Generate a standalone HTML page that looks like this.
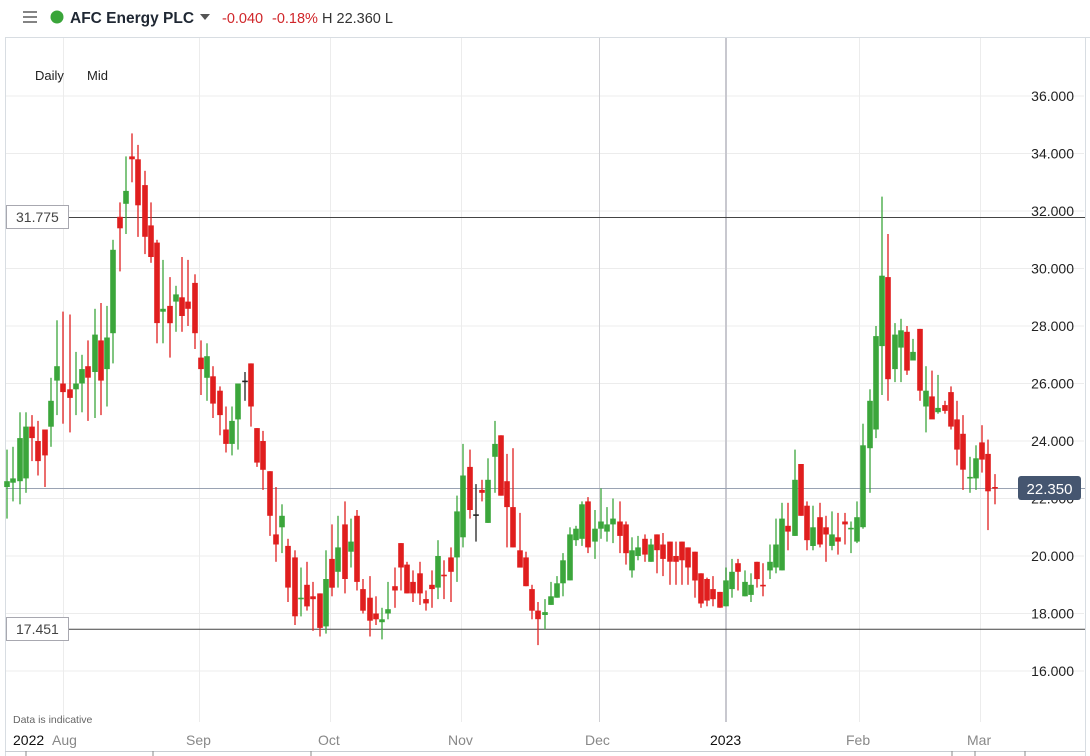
<!DOCTYPE html>
<html><head><meta charset="utf-8"><style>
body{margin:0;background:#fff;width:1090px;height:756px;overflow:hidden;font-family:"Liberation Sans",sans-serif}
svg{position:absolute;left:0;top:0}
</style></head><body>
<svg id="s" width="1090" height="756" xmlns="http://www.w3.org/2000/svg">
<rect x="0" y="0" width="1090" height="756" fill="#fff"/>
<line x1="5" y1="37.5" x2="1090" y2="37.5" stroke="#d8dde2"/>
<line x1="5.5" y1="38" x2="5.5" y2="756" stroke="#d8dde2"/>
<line x1="1085.5" y1="38" x2="1085.5" y2="756" stroke="#d8dde2"/>
<line x1="5" y1="751.5" x2="1085" y2="751.5" stroke="#c8ccd2"/>
<g id="grid"></g>
<g id="c"></g>
<!-- header -->
<g stroke="#666" stroke-width="1.6"><line x1="23" y1="12" x2="37" y2="12"/><line x1="23" y1="17" x2="37" y2="17"/><line x1="23" y1="22" x2="37" y2="22"/></g>
<circle cx="57" cy="17" r="6.5" fill="#3aa53a"/>
<text x="70" y="23" font-size="15.5" font-weight="bold" fill="#1f2733">AFC Energy PLC</text>
<polygon points="200,14 210,14 205,20" fill="#555"/>
<text x="222" y="23" font-size="14.5" fill="#d0262a">-0.040</text>
<text x="272" y="23" font-size="14.5" fill="#d0262a">-0.18%</text>
<text x="322" y="23" font-size="14.5" fill="#333">H 22.360 L</text>
<text x="35" y="80" font-size="13" fill="#222">Daily</text>
<text x="87" y="80" font-size="13" fill="#222">Mid</text>
<text x="13" y="723" font-size="10.5" fill="#666">Data is indicative</text>
<text x="13" y="745" font-size="14" fill="#111">2022</text>
<g font-size="14" fill="#888">
<text x="52" y="745">Aug</text><text x="186" y="745">Sep</text><text x="318" y="745">Oct</text>
<text x="448" y="745">Nov</text><text x="585" y="745">Dec</text><text x="967" y="745">Mar</text><text x="846" y="745">Feb</text>
</g>
<text x="710" y="745" font-size="14" fill="#111">2023</text>
<g stroke="#888"><line x1="26" y1="751" x2="26" y2="756"/><line x1="153" y1="751" x2="153" y2="756"/><line x1="311" y1="751" x2="311" y2="756"/><line x1="952" y1="751" x2="952" y2="756"/><line x1="975" y1="751" x2="975" y2="756"/><line x1="1025" y1="751" x2="1025" y2="756"/></g>
</svg>
<script>
const Y=p=>96+(36-p)*28.75;
let g='';
for(let p=16;p<=36;p+=2){const y=Y(p).toFixed(1);g+=`<line x1="6" y1="${y}" x2="1084" y2="${y}" stroke="#ececec"/>`;
g+=`<text x="1074" y="${(Y(p)+5).toFixed(1)}" font-size="14" fill="#222" text-anchor="end" font-family="Liberation Sans">${p}.000</text>`;}
[63,199,330,461,859,980].forEach(x=>g+=`<line x1="${x}.5" y1="38" x2="${x}.5" y2="722" stroke="#ececec"/>`);
g+=`<line x1="599.5" y1="38" x2="599.5" y2="722" stroke="#d0d0d4"/>`;
g+=`<line x1="726" y1="38" x2="726" y2="722" stroke="#c8c8cf" stroke-width="2"/>`;
g+=`<line x1="69" y1="${Y(31.775)}" x2="1085" y2="${Y(31.775)}" stroke="#444"/>`;
g+=`<rect x="6.5" y="205.5" width="62" height="23" fill="#fff" stroke="#a8a8b0"/><text x="16" y="222" font-size="14" fill="#444">31.775</text>`;
g+=`<line x1="69" y1="${Y(17.451)}" x2="1085" y2="${Y(17.451)}" stroke="#444"/>`;
g+=`<rect x="6.5" y="617.5" width="62" height="23" fill="#fff" stroke="#a8a8b0"/><text x="16" y="634" font-size="14" fill="#444">17.451</text>`;
g+=`<line x1="6" y1="${Y(22.35)}" x2="1085" y2="${Y(22.35)}" stroke="#9aa3b3"/>`;
document.getElementById('grid').innerHTML=g;
const D=[
[7,22.4,23.7,21.3,22.6],[13,22.55,23.8,21.9,22.7],[20,22.6,25,21.8,24.1],[26,22.7,25,22.2,24.5],[32,24.5,24.9,23.3,24.1],[38,24.0,24.7,22.8,23.3],[45,24.4,24.4,22.4,23.5],
[51,24.5,26.2,23.8,25.4],[57,26.1,28.2,24.9,26.6],[63,26.0,28.5,24.6,25.7],[70,25.8,28.4,24.3,25.5],[76,25.8,27.1,24.9,26.0],[82,26.0,27.0,25.0,26.5],
[88,26.6,27.5,24.7,26.2],[95,26.4,28.6,24.8,27.7],[101,27.5,28.8,24.9,26.1],[107,26.5,28.7,25.2,27.6],[113,27.75,31.0,26.7,30.65],[120,31.8,32.3,29.9,31.4],
[126,32.25,33.9,31.2,32.7],[132,33.9,34.7,33.0,33.8],[138,33.8,34.3,31.1,32.2],[145,32.9,33.4,30.5,31.1],[151,31.5,32.3,30.2,30.4],[157,30.9,31.0,27.4,28.1],
[163,28.5,30.3,27.4,28.6],[170,28.7,29.7,26.9,28.1],[176,28.85,29.4,27.8,29.1],[182,29.0,30.4,27.8,28.35],[188,28.85,30.3,28.0,28.6],[195,29.5,29.8,27.2,27.75],
[201,26.9,27.5,25.6,26.5],[207,26.2,27.4,25.4,26.95],[213,26.25,26.6,24.8,25.3],[220,25.75,25.9,24.2,24.9],[226,24.4,25.2,23.6,23.9],[232,23.9,25.2,23.5,24.7],
[238,24.75,26.0,23.7,26.0],[245,26.1,26.4,25.4,26.1,1],[251,26.7,26.7,24.5,25.2],[257,24.45,24.45,23.1,23.25],[263,24.0,24.35,22.3,23.0],
[270,22.95,22.95,20.7,21.4],[276,20.75,22.4,19.8,20.4],[282,21.0,21.8,20.1,21.4],[288,20.35,20.6,18.4,18.9],[295,19.95,20.2,17.6,17.9],[301,18.5,19.6,17.9,18.55],
[307,19.0,19.8,18.1,18.25],[313,18.6,19.1,17.4,18.5],[320,18.7,18.7,17.2,17.5],[326,17.55,20.2,17.3,19.2],[332,19.9,21.1,18.6,18.9],[338,19.45,21.4,18.9,20.3],
[345,21.1,21.9,18.7,19.2],[351,20.15,21.3,19.6,20.5],[357,21.4,21.6,18.8,19.1],[363,18.85,19.2,18.0,18.1],[370,18.55,19.3,17.2,17.75],[376,18.0,18.6,17.6,17.8],
[382,17.7,18.2,17.1,17.8],[388,18.0,19.1,17.8,18.15],[395,18.95,19.6,18.2,18.8],[401,20.45,20.45,18.8,19.6],[407,19.7,19.8,18.7,18.7],[413,19.1,19.5,18.4,18.7],
[420,19.4,19.8,18.3,18.7],[426,18.5,18.8,18.1,18.35],[432,19.0,19.5,18.2,18.85],[438,18.9,20.55,18.5,20.0],[444,19.35,19.85,18.5,19.3],[451,19.95,20.3,18.4,19.45],
[457,19.95,22.1,19.1,21.55],[463,20.65,23.9,20.3,22.8],[470,23.1,23.7,21.3,21.6],[476,21.45,22.5,20.5,21.45,1],[482,22.3,22.65,21.9,22.2],[488,21.15,23.4,21.15,22.65],
[495,23.45,24.7,22.2,23.9],[501,24.2,24.2,22.1,22.1],[507,22.6,23.55,20.3,21.7],[513,21.7,23.75,20.3,20.3],[520,20.2,21.5,19.6,19.6],[526,19.95,20.15,18.95,18.95],
[532,18.85,19.0,17.8,18.1],[538,18.1,18.4,16.9,17.8],[545,17.95,18.5,17.45,18.05],[551,18.3,19.1,18.3,18.6],[557,18.55,19.3,18.55,19.05],[563,19.05,20.1,18.6,19.85],
[570,19.15,21.0,19.15,20.75],[576,20.55,21.05,20.35,20.95],[582,20.6,21.9,20.35,21.8],[588,21.9,22.05,20.1,20.3],[595,20.5,21.6,19.9,20.95],[601,20.95,22.35,20.6,21.2],
[607,20.85,21.7,20.5,21.1],[613,21.1,22.0,20.45,21.3],[620,21.2,21.9,20.1,20.7],[626,21.1,21.2,19.7,20.1],[632,19.5,20.65,19.25,20.2],[638,20.0,20.7,19.85,20.3],
[645,20.6,20.75,19.8,20.05],[651,19.8,20.6,19.8,20.4],[657,20.75,20.75,19.4,20.2],[663,20.4,20.8,19.3,19.9],[670,20.5,20.5,19.0,19.8],[676,20.0,20.5,19.0,19.8],
[682,20.5,20.5,19.0,19.85],[688,20.3,20.3,19.0,19.6],[695,20.15,20.15,18.55,19.15],[701,19.4,19.4,18.2,18.35],[707,19.2,19.25,18.25,18.45],[713,18.85,19.3,18.25,18.5],
[720,18.75,18.75,18.2,18.2],[726,18.25,19.6,18.25,19.15],[732,18.85,19.9,18.55,19.45],[738,19.75,19.9,18.8,19.45],[745,18.6,19.5,18.6,19.1],
[751,18.65,19.4,18.4,19.0],[757,19.8,19.8,18.9,19.2],[763,19.0,19.75,18.6,18.95],[770,19.5,20.4,19.2,19.8],[776,19.6,21.3,19.4,20.4],[782,19.5,21.85,19.5,21.3],
[788,21.05,21.85,20.2,20.85],[795,20.7,23.7,20.7,22.65],[801,23.2,23.2,21.4,21.4],[807,21.75,21.9,20.2,20.55],[813,20.35,21.75,20.2,21.0],[820,21.35,21.85,20.3,20.4],
[826,21.0,21.4,19.8,20.75],[832,20.35,21.55,20.2,20.75],[838,20.65,21.5,20.05,20.5],[845,21.2,21.5,20.4,21.1],[851,20.95,21.2,20.1,20.98],[857,20.5,21.9,20.45,21.35],
[863,21.0,24.6,20.95,23.85],[870,23.75,25.8,22.2,25.4],[876,24.4,28.0,24.1,27.65],[882,27.3,32.5,25.6,29.75],[888,29.7,31.2,25.4,26.15],[895,26.5,28.1,26.05,27.7],
[901,27.25,28.25,26.05,27.85],[907,27.8,28.0,26.3,26.45],[913,26.8,27.55,26.8,27.1],[920,27.9,27.9,25.4,25.75],[926,25.2,26.6,24.3,25.75],[932,25.55,26.45,24.95,24.75],
[938,25.0,26.3,24.95,25.15],[945,25.25,25.4,24.95,25.05],[951,25.7,25.9,24.4,24.5],[957,24.75,25.4,23.15,23.7],[963,24.25,24.9,22.3,23.0],[970,22.7,23.45,22.2,22.75],
[976,22.7,23.85,22.3,23.4],[982,23.95,24.55,22.9,23.35],[988,23.55,24.05,20.9,22.25],[995,22.4,22.85,21.8,22.35]];
let s='';
D.forEach(d=>{const[x,o,h,l,c,dj]=d;const col=dj?'#222':(c>=o?'#3ba63b':'#e01e1e');
const t=Y(Math.max(o,c)),b=Y(Math.min(o,c));
s+=`<line x1="${x}" y1="${Y(h).toFixed(1)}" x2="${x}" y2="${Y(l).toFixed(1)}" stroke="${col}" stroke-width="1.3"/>`;
s+=`<rect x="${x-2.8}" y="${t.toFixed(1)}" width="5.6" height="${Math.max(b-t,1.6).toFixed(1)}" fill="${col}"/>`;});
s+=`<rect x="1018" y="476" width="63" height="24" rx="3" fill="#455670"/><text x="1049.5" y="494" font-size="15" fill="#fff" text-anchor="middle" font-family="Liberation Sans">22.350</text>`;
document.getElementById('c').innerHTML=s;
</script>
</body></html>
